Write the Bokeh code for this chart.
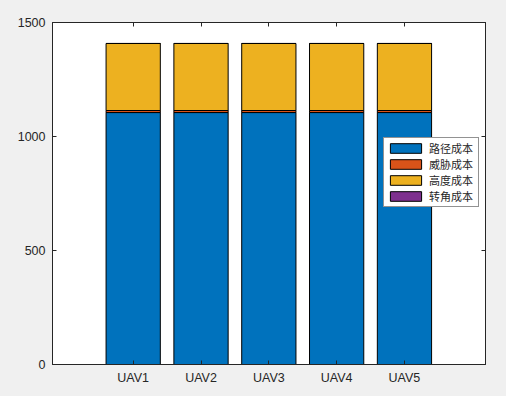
from bokeh.plotting import figure
from bokeh.models import ColumnDataSource, FixedTicker, LinearAxis, Range1d, Legend
from bokeh.embed import file_html
from bokeh.resources import INLINE

uavs = ["UAV1", "UAV2", "UAV3", "UAV4", "UAV5"]
x_pos = [1, 2, 3, 4, 5]
path_cost = [1105, 1105, 1105, 1105, 1105]
threat_cost = [9, 9, 9, 9, 9]
height_cost = [294, 294, 294, 294, 294]
turn_cost = [0, 0, 0, 0, 0]
series = ["路径成本", "威胁成本", "高度成本", "转角成本"]
colors = ["#0072BD", "#D95319", "#EDB120", "#7E2F8E"]
y_ticks = [0, 500, 1000, 1500]

src = ColumnDataSource(dict(x=x_pos, s0=path_cost, s1=threat_cost, s2=height_cost, s3=turn_cost))

p = figure(frame_width=433, frame_height=342, output_backend="svg", toolbar_location=None,
           x_range=Range1d(-0.19, 6.195), y_range=Range1d(0, 1500),
           min_border_left=52, min_border_right=14, min_border_top=22, min_border_bottom=24,
           background_fill_color="white", border_fill_color="#f0f0f0")
p.grid.visible = False
p.outline_line_color = "#262626"
p.outline_line_width = 1

rs = p.vbar_stack(["s0", "s1", "s2", "s3"], x="x", width=0.8, source=src,
                  fill_color=colors, line_color="black", line_width=1)

font = "Liberation Sans"
def style(ax, ticks, labels=True):
    ax.ticker = FixedTicker(ticks=ticks)
    ax.axis_line_color = "#262626"
    ax.major_tick_line_color = "#262626"
    ax.major_tick_in = 4
    ax.major_tick_out = 0
    ax.minor_tick_line_color = None
    ax.major_label_text_font = font
    ax.major_label_text_font_size = "12.5px"
    ax.major_label_text_color = "#262626"
    if not labels:
        ax.major_label_text_font_size = "0px"
        ax.major_label_text_color = None

p.add_layout(LinearAxis(), "above")
p.add_layout(LinearAxis(), "right")
for ax in p.below:
    style(ax, x_pos)
    ax.major_label_overrides = {i: u for i, u in zip(x_pos, uavs)}
    ax.major_label_standoff = 6
for ax in p.left:
    style(ax, y_ticks)
    ax.major_label_standoff = 7
for ax in p.above:
    style(ax, x_pos, labels=False)
    ax.major_label_standoff = 0
for ax in p.right:
    style(ax, y_ticks, labels=False)
    ax.major_label_standoff = 0

legend = Legend(items=[(s, [r]) for s, r in zip(series, rs)], location=(331, 157))
legend.glyph_width = 39
legend.glyph_height = 12
legend.label_height = 12
legend.label_width = 47
legend.label_standoff = 4
legend.spacing = 0
legend.padding = 2
legend.margin = 0
legend.label_text_font = "Noto Sans CJK SC"
legend.label_text_font_size = "11px"
legend.label_text_color = "#262626"
legend.border_line_color = "#262626"
legend.border_line_width = 1
legend.background_fill_color = "white"
legend.background_fill_alpha = 1
p.add_layout(legend, "center")

html = file_html(p, INLINE)
html = html.replace("<head>", "<head><style>body{background:#f0f0f0;}</style>", 1)
open("out.html", "w").write(html)
